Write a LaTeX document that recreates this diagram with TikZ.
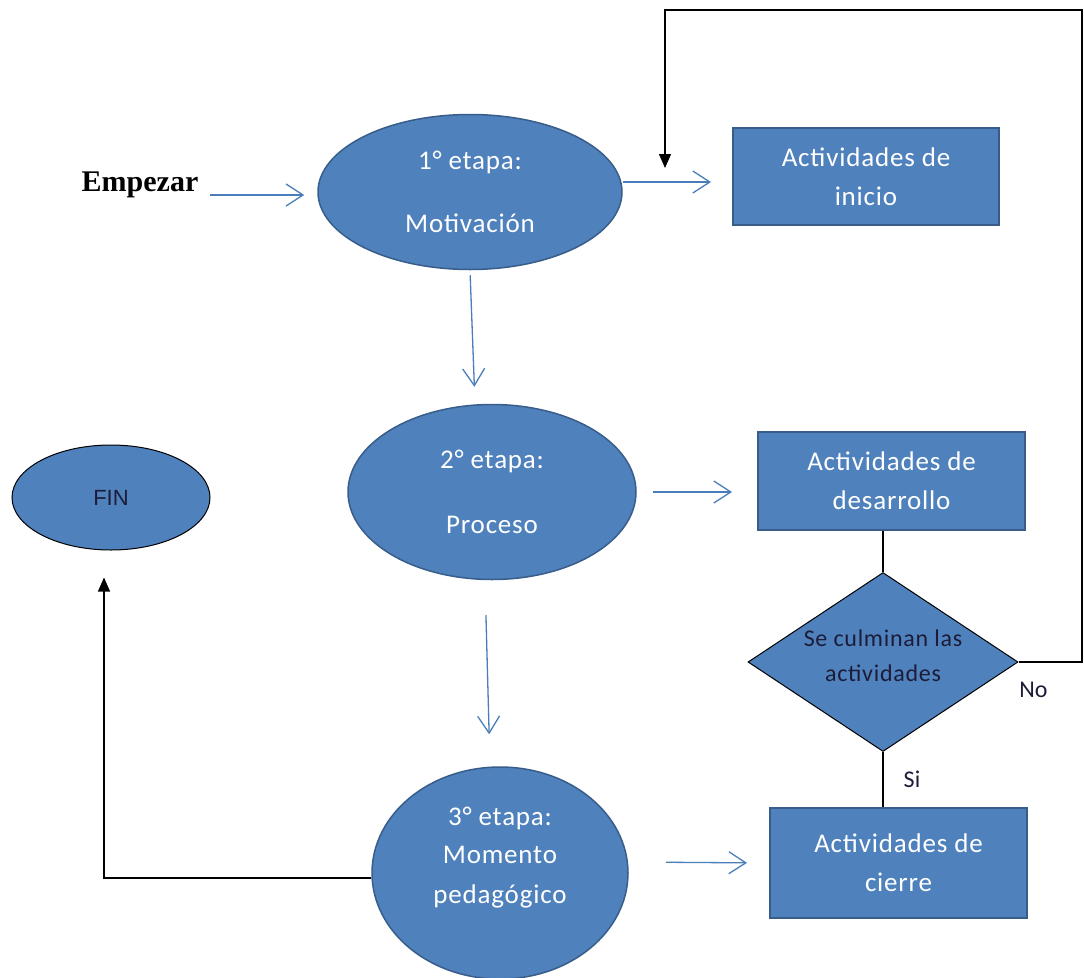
\documentclass[tikz,border=0pt]{standalone}
\usepackage{fontspec}
\setmainfont{Carlito}
\newfontfamily\timesfont{Liberation Serif}
\newfontfamily\arialfont{Liberation Sans}
\newfontfamily\widefont[LetterSpace=3]{Carlito}
\usepackage{xcolor}
\usetikzlibrary{arrows.meta,shapes.geometric}
\definecolor{boxfill}{HTML}{4F81BD}
\definecolor{boxline}{HTML}{385D8A}
\definecolor{flowline}{HTML}{4A7EBB}
\definecolor{darktext}{HTML}{1C1C38}

\begin{document}
\begin{tikzpicture}[x=1pt, y=-1pt, inner sep=2pt,
  stage/.style={ellipse, draw=boxline, fill=boxfill, line width=1.5pt, text=white, align=center, inner sep=0pt, font=\widefont\fontsize{27}{30}\selectfont},
  task/.style={rectangle, draw=boxline, fill=boxfill, line width=2pt, text=white, align=center, font=\widefont\fontsize{27}{39}\selectfont},
  flow/.style={draw=flowline, line width=1.3pt, -{Straight Barb[length=17pt,width=22pt,line width=1.3pt]}},
  back/.style={draw=black, line width=1.3pt, -{Triangle[length=14pt,width=12pt]}},
  link/.style={draw=black, line width=1.3pt}]
\useasboundingbox (0,0) rectangle (1084,977);
\tikzstyle{note}=[text=darktext, font=\fontsize{24}{28}\selectfont]

\node[font=\timesfont\bfseries\fontsize{30}{36}\selectfont] (start) at (140,185) {Empezar};
\node[stage, minimum width=304, minimum height=155] (e1) at (470,192) {1° etapa:\\[33pt]Motivación};
\node[stage, minimum width=288, minimum height=175] (e2) at (492,492) {2° etapa:\\[35pt]Proceso};
\node[stage, minimum width=256, minimum height=212] (e3) at (500,873) {};
\node[text=white, align=center, font=\widefont\fontsize{27}{30}\selectfont] (e3t) at ([yshift=15pt]e3.center) {3° etapa:\\[8pt]Momento\\[10pt]pedagógico};
\node[task, minimum width=266, minimum height=97] (r1) at (866,176.5) {Actividades de\\inicio};
\node[task, minimum width=267, minimum height=98] (r2) at (891.5,481) {Actividades de\\desarrollo};
\node[task, minimum width=257, minimum height=110] (r3) at (898.5,863) {Actividades de\\cierre};
\node[diamond, draw=black, line width=1pt, fill=boxfill, minimum width=270, minimum height=179, inner sep=0pt] (d1) at (883,662) {};
\node[note, font=\widefont\fontsize{24}{35}\selectfont, align=center] (d1t) at ([yshift=6pt]d1.center) {Se culminan las\\actividades};
\node[ellipse, draw=black, line width=1pt, fill=boxfill, minimum width=198, minimum height=105, text=darktext, font=\arialfont\fontsize{22}{24}\selectfont] (fin) at (111,497.5) {FIN};

\coordinate (corner) at (1082,10);
\coordinate (tip) at (665,168);

% blue flow
\draw[flow, shorten <=9pt, shorten >=13pt] ([yshift=-10pt]start.east) -- ([yshift=-10pt]start.east -| e1.west);
\draw[flow, shorten >=21pt] ([yshift=10pt]e1.east) -- ([yshift=10pt]e1.east -| r1.west);
\draw[flow, shorten <=5pt, shorten >=17pt] (e1.south) -- ([xshift=-17pt]e2.north);
\draw[flow, shorten <=16pt, shorten >=25pt] (e2.east) -- (e2.east -| r2.west);
\draw[flow, shorten <=35pt, shorten >=32pt] ([xshift=-7pt]e2.south) -- ([xshift=-10pt]e3.north);
\draw[flow, shorten <=37pt, shorten >=22pt] ([yshift=11pt]e3.east) -- (r3.west);

% decision
\draw[link] (d1.north |- r2.south) -- (d1.north);
\draw[link] (d1.south) node[note, xshift=29pt, yshift=-27pt] {Si} -- (d1.south |- r3.north);
\draw[back] (d1.east) node[note, xshift=15pt, yshift=-28pt] {No} -| (corner) -| (tip);
\draw[back, shorten >=27pt] ([yshift=-5pt]e3.west) -| ([xshift=-7pt]fin.south);
\end{tikzpicture}
\end{document}
